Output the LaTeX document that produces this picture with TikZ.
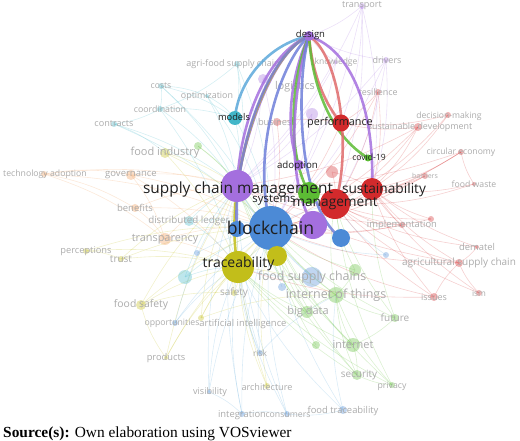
\documentclass[tikz,border=0pt]{standalone}
\usepackage{fontspec}
\newfontfamily\vos{Open Sans}
\newfontfamily\capfont{Liberation Serif}
\usepackage{xcolor}
\usepackage{tikz}
\usetikzlibrary{positioning}
\definecolor{vospurple}{HTML}{A46FDE}
\definecolor{vosblue}{HTML}{4C8AD6}
\definecolor{vosred}{HTML}{D22A2C}
\definecolor{vosgreen}{HTML}{5CBC34}
\definecolor{vosolive}{HTML}{C2BE1A}
\definecolor{voscyan}{HTML}{42B6C8}
\definecolor{vossky}{HTML}{5CA8DA}
\definecolor{vosorange}{HTML}{F09A55}
\definecolor{vosfade}{HTML}{ABABAB}
\pgfdeclarelayer{web}
\pgfdeclarelayer{soft}
\pgfdeclarelayer{ties}
\pgfsetlayers{web,soft,ties,main}

\begin{document}
\begin{tikzpicture}[x=1pt, y=-1pt,
    hub/.style={circle, inner sep=0pt, fill=#1},
    soft/.style={circle, inner sep=0pt, fill=#1, fill opacity=0.35},
    key/.style={font=\vos\fontsize{#1}{#1}\selectfont, text=black!88, inner sep=0pt},
    dim/.style={font=\vos\fontsize{#1}{#1}\selectfont, text=vosfade, inner sep=0pt},
    web/.style={draw=#1, opacity=0.22, line width=0.6pt},
    tie/.style={draw=#1, line width=2.6pt, opacity=0.85}]
    \useasboundingbox (0,0) rectangle (520,441);

    % faded items
    \begin{pgfonlayer}{soft}
    \node[soft=vospurple, minimum size=6] (tsp) at (362,6) {};
    \node[soft=vospurple, minimum size=6] (drv) at (386,60) {};
    \node[soft=vospurple, minimum size=4] (knw) at (336,62) {};
    \node[soft=vospurple, minimum size=10] (lgs) at (263,79) {};
    \node[soft=vospurple, minimum size=12] (fp1) at (312,114) {};
    \node[soft=vosred, minimum size=8] (bus) at (277,122) {};
    \node[soft=voscyan, minimum size=6] (afs) at (237,64) {};
    \node[soft=voscyan, minimum size=6] (cst) at (161,86) {};
    \node[soft=voscyan, minimum size=4] (opt) at (207,96) {};
    \node[soft=voscyan, minimum size=6] (crd) at (160,109) {};
    \node[soft=voscyan, minimum size=6] (ctr) at (114,124) {};
    \node[soft=vosolive, minimum size=10] (fin) at (165,153) {};
    \node[soft=vosgreen, minimum size=8] (fg1) at (198,146) {};
    \node[soft=vosorange, minimum size=6] (tad) at (44,174) {};
    \node[soft=vosorange, minimum size=10] (gov) at (131,175) {};
    \node[soft=vosorange, minimum size=8] (ben) at (135,208) {};
    \node[soft=voscyan, minimum size=10] (dld) at (189,221) {};
    \node[soft=vosorange, minimum size=12] (trp) at (165,239) {};
    \node[soft=vosolive, minimum size=6] (prc) at (86,251) {};
    \node[soft=vosolive, minimum size=6] (tru) at (121,259) {};
    \node[soft=voscyan, minimum size=14] (fc1) at (185,277) {};
    \node[soft=vosblue, minimum size=6] (fb1) at (197,253) {};
    \node[soft=vosolive, minimum size=6] (saf) at (234,293) {};
    \node[soft=vosolive, minimum size=10] (fsf) at (141,305) {};
    \node[soft=vosblue, minimum size=6] (opp) at (175,323) {};
    \node[soft=vosolive, minimum size=6] (ai) at (201,318) {};
    \node[soft=vosolive, minimum size=4] (prd) at (166,358) {};
    \node[soft=vosblue, minimum size=6] (rsk) at (260,353) {};
    \node[soft=vosblue, minimum size=4] (vis) at (209,392) {};
    \node[soft=vosolive, minimum size=6] (arc) at (267,386) {};
    \node[soft=vosblue, minimum size=6] (itg) at (242,414) {};
    \node[soft=vosblue, minimum size=6] (con) at (287,414) {};
    \node[soft=vosblue, minimum size=8] (ftr) at (343,410) {};
    \node[soft=vosgreen, minimum size=6] (prv) at (392,385) {};
    \node[soft=vosgreen, minimum size=10] (sec) at (357,375) {};
    \node[soft=vosgreen, minimum size=14] (inet) at (353,345) {};
    \node[soft=vosgreen, minimum size=8] (fg2) at (316,345) {};
    \node[soft=vosgreen, minimum size=12] (bgd) at (307,312) {};
    \node[soft=vosgreen, minimum size=16] (iot) at (336,295) {};
    \node[soft=vosblue, minimum size=20] (fsc) at (312,277) {};
    \node[soft=vosblue, minimum size=8] (fb2) at (282,287) {};
    \node[soft=vosgreen, minimum size=12] (fg3) at (355,270) {};
    \node[soft=vosgreen, minimum size=8] (fut) at (395,318) {};
    \node[soft=vosblue, minimum size=6] (fb3) at (386,255) {};
    \node[soft=vosred, minimum size=8] (iss) at (434,297) {};
    \node[soft=vosred, minimum size=6] (ism) at (479,293) {};
    \node[soft=vosred, minimum size=8] (asc) at (459,263) {};
    \node[soft=vosred, minimum size=4] (dem) at (477,247) {};
    \node[soft=vosred, minimum size=6] (imp) at (402,225) {};
    \node[soft=vosred, minimum size=6] (fr1) at (431,219) {};
    \node[soft=vosred, minimum size=4] (fw) at (474,184) {};
    \node[soft=vosred, minimum size=6] (bar) at (425,176) {};
    \node[soft=vosred, minimum size=6] (ce) at (461,152) {};
    \node[soft=vosred, minimum size=8] (sd) at (418,127) {};
    \node[soft=vosred, minimum size=6] (dm) at (448,115) {};
    \node[soft=vosred, minimum size=6] (res) at (378,92) {};
    \node[soft=vosred, minimum size=12] (fr2) at (332,172) {};

    \node[dim=9.1] (tspl) at (362,6) {transport};
    \node[dim=9] (drvl) at (387,60) {drivers};
    \node[dim=8.5] (knwl) at (336,62) {knowledge};
    \node[dim=9] (afsl) at (233,64) {agri-food supply chain};
    \node[dim=10.7] (lgsl) at (295,87) {logistics};
    \node[dim=8.7] (cstl) at (161,86) {costs};
    \node[dim=8.9] (optl) at (207,96) {optimization};
    \node[dim=8.8] (crdl) at (160,109) {coordination};
    \node[dim=9.1] (ctrl) at (114,124) {contracts};
    \node[dim=9.3] (busl) at (277,122) {business};
    \node[dim=8.9] (resl) at (378,92) {resilience};
    \node[dim=8.6] (dml) at (449,116) {decision-making};
    \node[dim=8.9] (sdl) at (420,127) {sustainable development};
    \node[dim=8.6] (cel) at (461,152) {circular economy};
    \node[dim=7] (barl) at (425,176) {barriers};
    \node[dim=8.7] (fwl) at (474,184) {food waste};
    \node[dim=9.4] (impl) at (402,225) {implementation};
    \node[dim=9.4] (deml) at (477,247) {dematel};
    \node[dim=10] (ascl) at (459,263) {agricultural supply chain};
    \node[dim=9] (issl) at (434,297) {issues};
    \node[dim=8.4] (isml) at (479,293) {ism};
    \node[dim=12.4] (fscl) at (312,277) {food supply chains};
    \node[dim=12.5] (iotl) at (336,295) {internet of things};
    \node[dim=11] (bgdl) at (308,312) {big data};
    \node[dim=10] (futl) at (395,318) {future};
    \node[dim=11] (inetl) at (353,345) {internet};
    \node[dim=10] (secl) at (359,375) {security};
    \node[dim=8.7] (prvl) at (392,386) {privacy};
    \node[dim=9.4] (ftrl) at (343,411) {food traceability};
    \node[dim=9.4] (itgl) at (242,415) {integration};
    \node[dim=8.7] (conl) at (288,415) {consumers};
    \node[dim=9.1] (arcl) at (267,387) {architecture};
    \node[dim=8.4] (rskl) at (260,353) {risk};
    \node[dim=9.3] (prdl) at (166,358) {products};
    \node[dim=9.1] (visl) at (210,392) {visibility};
    \node[dim=9.4] (ail) at (243,324) {artificial intelligence};
    \node[dim=8.7] (oppl) at (172,323) {opportunities};
    \node[dim=10.4] (fsfl) at (141,305) {food safety};
    \node[dim=10] (safl) at (234,293) {safety};
    \node[dim=10] (trul) at (121,259) {trust};
    \node[dim=9.3] (prcl) at (86,251) {perceptions};
    \node[dim=10.9] (trpl) at (165,239) {transparency};
    \node[dim=9.8] (dldl) at (189,221) {distributed ledger};
    \node[dim=9.5] (benl) at (135,208) {benefits};
    \node[dim=9.5] (govl) at (131,175) {governance};
    \node[dim=8.7] (tadl) at (45,174) {technology adoption};
    \node[dim=11] (finl) at (165,153) {food industry};
    \end{pgfonlayer}

    % main items
    \node[hub=vospurple, minimum size=10] (dsg) at (309,36) {};
    \node[hub=voscyan, minimum size=14] (mdl) at (235,118) {};
    \node[hub=vosred, minimum size=17] (prf) at (341,123) {};
    \node[hub=vosgreen, minimum size=7] (cov) at (368,158) {};
    \node[hub=vospurple, minimum size=10] (adp) at (299,165) {};
    \node[hub=vospurple, minimum size=32] (scm) at (237,186) {};
    \node[hub=vosgreen, minimum size=22] (grn) at (309,193) {};
    \node[hub=vosred, minimum size=30] (mgt) at (335,204) {};
    \node[hub=vosred, minimum size=22] (sus) at (372,189) {};
    \node[hub=vosblue, minimum size=44] (bc) at (271,228) {};
    \node[hub=vospurple, minimum size=28] (ppl) at (313,225) {};
    \node[hub=vosblue, minimum size=18] (blu) at (341,238) {};
    \node[hub=vosblue, minimum size=16] (blb) at (237,229) {};
    \node[hub=vosolive, minimum size=32] (trc) at (238,267) {};
    \node[hub=vosolive, minimum size=20] (ylw) at (277,256) {};

    \node[key=9.5] (dsgl) at (310.5,35.5) {design};
    \node[key=9.3] (mdll) at (234,117.5) {models};
    \node[key=10.8] (prfl) at (340,123) {performance};
    \node[key=8.6] (covl) at (369,157) {covid-19};
    \node[key=9.7] (adpl) at (297.5,165.5) {adoption};
    \node[key=15.4] (scml) at (238,189) {supply chain management};
    \node[key=11.4] (sysl) at (274,200) {systems};
    \node[key=13.7] (mgtl) at (335,203.5) {management};
    \node[key=13.7] (susl) at (384,190) {sustainability};
    \node[key=17.6] (bcl) at (270.5,228) {blockchain};
    \node[key=14] (trcl) at (238.5,264) {traceability};

    % faint web of links
    \begin{pgfonlayer}{web}
    \foreach \a/\b/\c in {afs/mdl/voscyan, afs/scm/voscyan, cst/mdl/voscyan, cst/crd/voscyan,
        cst/opt/voscyan, opt/mdl/voscyan, crd/mdl/voscyan, crd/ctr/voscyan, ctr/scm/voscyan,
        ctr/bc/voscyan, opt/scm/voscyan, crd/scm/voscyan, dld/bc/voscyan, dld/scm/voscyan,
        fc1/bc/voscyan, fc1/trc/voscyan, cst/scm/voscyan, afs/crd/voscyan, ctr/fin/voscyan,
        opt/bc/voscyan, afs/bc/voscyan, mdl/bc/voscyan, mdl/scm/voscyan, fc1/scm/voscyan,
        dld/trc/voscyan, cst/bc/voscyan, crd/trc/voscyan,
        tad/gov/vosorange, tad/trp/vosorange, tad/bc/vosorange, tad/ben/vosorange,
        gov/bc/vosorange, gov/scm/vosorange, ben/bc/vosorange, ben/trp/vosorange,
        trp/bc/vosorange, trp/trc/vosorange, gov/trp/vosorange, ben/scm/vosorange,
        trp/scm/vosorange, tad/scm/vosorange, gov/trc/vosorange,
        prc/tru/vosolive, prc/trc/vosolive, tru/trc/vosolive, tru/bc/vosolive, fin/scm/vosolive,
        fin/trc/vosolive, fin/bc/vosolive, fsf/trc/vosolive, fsf/bc/vosolive, saf/trc/vosolive,
        ai/bc/vosolive, ai/trc/vosolive, prd/trc/vosolive, prd/bc/vosolive, arc/bc/vosolive,
        arc/trc/vosolive, fsf/saf/vosolive, prd/fsf/vosolive, ai/iot/vosolive, prc/bc/vosolive,
        fsf/scm/vosolive, saf/bc/vosolive, saf/scm/vosolive, arc/scm/vosolive, prd/scm/vosolive,
        ai/scm/vosolive, trc/mgt/vosolive, trc/iot/vosolive, tru/scm/vosolive,
        opp/bc/vossky, opp/trc/vossky, rsk/bc/vossky, vis/bc/vossky, vis/scm/vossky,
        itg/bc/vossky, itg/scm/vossky, con/bc/vossky, con/trc/vossky, ftr/bc/vossky,
        ftr/iot/vossky, fsc/bc/vossky, fb2/bc/vossky, fb1/bc/vossky, fb3/bc/vossky,
        rsk/iot/vossky, itg/con/vossky, vis/itg/vossky, ftr/con/vossky, rsk/trc/vossky,
        fsc/trc/vossky, fsc/scm/vossky, opp/scm/vossky, con/scm/vossky, ftr/trc/vossky,
        fb3/mgt/vossky, rsk/scm/vossky, vis/trc/vossky, itg/trc/vossky, bc/scm/vossky,
        bc/trc/vossky, bc/mgt/vossky,
        prv/iot/vosgreen, prv/bc/vosgreen, sec/bc/vosgreen, sec/iot/vosgreen, inet/bc/vosgreen,
        inet/iot/vosgreen, fg2/bc/vosgreen, bgd/bc/vosgreen, bgd/iot/vosgreen, iot/bc/vosgreen,
        fut/bc/vosgreen, fut/iot/vosgreen, fg3/bc/vosgreen, inet/sec/vosgreen, prv/sec/vosgreen,
        fut/inet/vosgreen, fg1/scm/vosgreen, fg1/bc/vosgreen, inet/trc/vosgreen, sec/trc/vosgreen,
        fut/sus/vosgreen, prv/mgt/vosgreen, iot/scm/vosgreen, iot/mgt/vosgreen, inet/scm/vosgreen,
        bgd/trc/vosgreen, bgd/scm/vosgreen, sec/scm/vosgreen, prv/trc/vosgreen, fg3/mgt/vosgreen,
        fg3/iot/vosgreen, fut/mgt/vosgreen,
        iss/sus/vosred, iss/mgt/vosred, ism/asc/vosred, ism/mgt/vosred, asc/sus/vosred,
        asc/mgt/vosred, dem/asc/vosred, dem/sus/vosred, imp/sus/vosred, imp/mgt/vosred,
        fr1/sus/vosred, fw/sus/vosred, fw/ce/vosred, bar/sus/vosred, bar/mgt/vosred,
        ce/sus/vosred, ce/mgt/vosred, sd/sus/vosred, sd/prf/vosred, dm/sus/vosred,
        dm/prf/vosred, res/prf/vosred, res/sus/vosred, fr2/mgt/vosred, fr2/sus/vosred,
        bus/prf/vosred, bus/bc/vosred, iss/asc/vosred, sd/mgt/vosred, dm/mgt/vosred,
        ism/sus/vosred, res/mgt/vosred, asc/bc/vosred, iss/bc/vosred, imp/bc/vosred,
        fw/mgt/vosred, dem/mgt/vosred, ce/bc/vosred, prf/bc/vosred, sus/bc/vosred,
        imp/scm/vosred, asc/scm/vosred, iss/trc/vosred, sd/bc/vosred, sd/scm/vosred,
        ce/scm/vosred, res/bc/vosred, bar/bc/vosred, fr1/bc/vosred, fr1/mgt/vosred,
        mgt/scm/vosred, sus/scm/vosred,
        tsp/dsg/vospurple, tsp/prf/vospurple, tsp/bc/vospurple, tsp/scm/vospurple,
        tsp/sus/vospurple, drv/dsg/vospurple, drv/sus/vospurple, drv/scm/vospurple,
        knw/dsg/vospurple, knw/scm/vospurple, knw/bc/vospurple, lgs/scm/vospurple,
        lgs/bc/vospurple, lgs/dsg/vospurple, fp1/bc/vospurple, fp1/scm/vospurple,
        drv/mgt/vospurple, tsp/mgt/vospurple, drv/bc/vospurple}
        \draw[web=\c] (\a.center) to[bend left=10] (\b.center);
    \end{pgfonlayer}

    % links of design
    \begin{pgfonlayer}{ties}
    \draw[tie=vossky] (dsg.center) .. controls (268,44) and (238,82) .. (mdl.center);
    \draw[tie=vospurple] (dsg.center) .. controls (268,52) and (240,120) .. (scm.center);
    \draw[tie=vospurple] (dsg.center) .. controls (274,50) and (246,130) .. (scm.center);
    \draw[tie=vosolive] (dsg.center) .. controls (262,55) and (222,190) .. (trc.center);
    \draw[tie=vospurple!50!vosblue] (dsg.center) .. controls (265,55) and (232,160) .. (blb.center);
    \draw[tie=vospurple!40!vosblue] (dsg.center) .. controls (282,60) and (250,150) .. (bc.center);
    \draw[tie=vospurple] (dsg.center) .. controls (292,70) and (283,130) .. (adp.center);
    \draw[tie=vosgreen] (dsg.center) .. controls (292,75) and (285,150) .. (grn.center);
    \draw[tie=vospurple] (dsg.center) .. controls (296,75) and (282,175) .. (ppl.center);
    \draw[tie=vospurple!40!vosblue] (dsg.center) .. controls (296,80) and (296,205) .. (blu.center);
    \draw[tie=vosred!70] (dsg.center) .. controls (312,70) and (322,100) .. (prf.center);
    \draw[tie=vosgreen] (dsg.center) .. controls (312,85) and (330,135) .. (cov.center);
    \draw[tie=vosred!70] (dsg.center) .. controls (340,55) and (352,150) .. (mgt.center);
    \draw[tie=vospurple] (dsg.center) .. controls (352,50) and (375,110) .. (sus.center);
    \end{pgfonlayer}

    \node[anchor=base west, inner sep=0pt, font=\capfont\fontsize{15.4}{15.4}\selectfont] (src) at (3,437)
        {\textbf{Source(s):} Own elaboration using VOSviewer};
\end{tikzpicture}
\end{document}
